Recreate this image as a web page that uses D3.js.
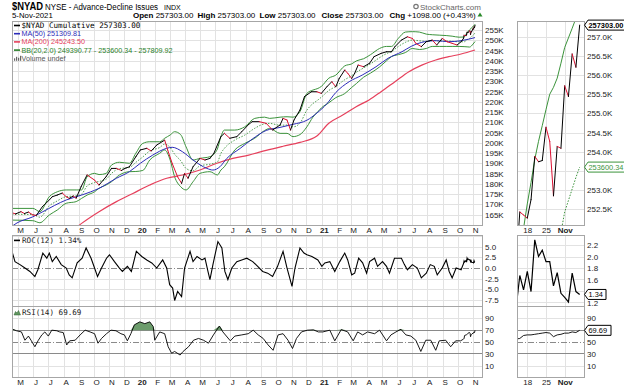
<!DOCTYPE html>
<html>
<head>
<meta charset="utf-8">
<title>$NYAD</title>
<script src="https://cdn.jsdelivr.net/npm/d3@7"></script>
<style>
  body { margin: 0; background: #fff; }
  svg { display: block; font-family: "Liberation Sans", Arial, sans-serif; }
  .grid line { stroke: #e2e2e2; shape-rendering: crispEdges; }
  .grid path { display: none; }
  .labels path { display: none; }
  .labels text { fill: #222; font-size: 8px; font-family: "Liberation Sans", Arial, sans-serif; }
  .frame { fill: none; stroke: #a6a6a6; shape-rendering: crispEdges; }
  .legend { font-size: 7.2px; }
  .mono { font-family: "DejaVu Sans Mono", monospace; font-size: 7.6px; }
</style>
</head>
<body>
<svg id="chart" width="624" height="389"></svg>
<script>
var parseDate = d3.timeParse("%Y-%m-%d");

// ---- values (A/D line in thousands) ----
var closePoints = [
    ["2019-04-19", 165.9], ["2019-04-26", 165.3], ["2019-05-07", 166.4], ["2019-05-14", 165.5],
    ["2019-05-22", 166.2], ["2019-05-31", 164.8], ["2019-06-07", 164.6], ["2019-06-19", 168.8],
    ["2019-07-03", 172.1], ["2019-07-09", 173.7], ["2019-07-19", 174.5], ["2019-07-29", 175.5],
    ["2019-08-06", 173.7], ["2019-08-12", 172.9], ["2019-08-20", 174.0], ["2019-08-26", 173.0],
    ["2019-09-05", 178.6], ["2019-09-17", 184.3], ["2019-10-02", 181.8], ["2019-10-11", 179.4],
    ["2019-10-25", 183.4], ["2019-11-05", 187.5], ["2019-11-15", 187.5], ["2019-11-25", 186.5],
    ["2019-12-02", 187.5], ["2019-12-11", 188.3], ["2019-12-24", 193.2], ["2020-01-02", 196.5],
    ["2020-01-15", 197.3], ["2020-01-24", 196.0], ["2020-02-04", 198.9], ["2020-02-20", 201.3],
    ["2020-02-26", 196.5], ["2020-03-06", 190.0], ["2020-03-17", 183.4], ["2020-03-25", 180.2],
    ["2020-03-31", 185.1], ["2020-04-07", 182.7], ["2020-04-17", 188.3], ["2020-05-01", 192.4],
    ["2020-05-11", 191.6], ["2020-05-21", 192.4], ["2020-05-29", 194.9], ["2020-06-12", 203.0],
    ["2020-06-19", 204.6], ["2020-06-30", 202.2], ["2020-07-14", 203.0], ["2020-07-24", 205.4],
    ["2020-08-07", 209.0], ["2020-08-14", 210.3], ["2020-08-28", 210.3], ["2020-09-11", 209.5],
    ["2020-09-24", 206.2], ["2020-10-09", 208.7], ["2020-10-15", 211.9], ["2020-10-23", 211.1],
    ["2020-10-30", 206.2], ["2020-11-06", 211.1], ["2020-11-18", 216.0], ["2020-11-27", 222.5],
    ["2020-12-11", 224.9], ["2020-12-22", 224.9], ["2020-12-31", 224.1], ["2021-01-11", 227.3],
    ["2021-01-21", 229.8], ["2021-01-29", 227.3], ["2021-02-05", 231.4], ["2021-02-16", 235.5],
    ["2021-02-22", 233.9], ["2021-03-02", 231.4], ["2021-03-08", 233.9], ["2021-03-15", 237.9],
    ["2021-03-26", 237.1], ["2021-04-07", 238.8], ["2021-04-16", 242.0], ["2021-04-30", 243.6],
    ["2021-05-11", 244.4], ["2021-05-21", 244.4], ["2021-05-28", 246.9], ["2021-06-10", 250.1],
    ["2021-06-22", 251.7], ["2021-07-02", 250.9], ["2021-07-09", 248.5], ["2021-07-20", 246.9],
    ["2021-07-30", 249.3], ["2021-08-11", 250.1], ["2021-08-20", 247.7], ["2021-08-31", 250.9],
    ["2021-09-10", 249.3], ["2021-09-20", 248.5], ["2021-09-30", 247.7], ["2021-10-08", 249.3]
];

var ma50Points = [
    ["2019-04-19", 159.3], ["2019-04-29", 160.9], ["2019-05-31", 163.9], ["2019-06-20", 166.4],
    ["2019-08-06", 172.1], ["2019-09-06", 174.5], ["2019-10-11", 177.8], ["2019-11-15", 182.7],
    ["2019-12-11", 185.9], ["2020-01-02", 190.0], ["2020-01-27", 194.0], ["2020-02-24", 197.3],
    ["2020-03-06", 197.8], ["2020-03-27", 195.6], ["2020-04-17", 191.6], ["2020-05-15", 187.5],
    ["2020-05-27", 186.7], ["2020-06-10", 188.3], ["2020-06-24", 192.4], ["2020-07-21", 197.3],
    ["2020-08-14", 201.8], ["2020-09-11", 206.0], ["2020-10-09", 207.5], ["2020-11-04", 209.0],
    ["2020-12-02", 211.0], ["2020-12-22", 214.5], ["2021-01-11", 219.0], ["2021-01-29", 224.5],
    ["2021-02-25", 229.8], ["2021-03-23", 233.0], ["2021-04-20", 237.1], ["2021-05-14", 241.2],
    ["2021-06-11", 244.4], ["2021-07-01", 247.2], ["2021-07-21", 249.0], ["2021-08-18", 249.8],
    ["2021-09-13", 249.3], ["2021-10-08", 249.8], ["2021-11-05", 251.31]
];

var ma200Points = [
    ["2019-08-20", 157.5], ["2019-09-06", 160.7], ["2019-10-11", 166.4], ["2019-11-15", 171.3],
    ["2019-12-18", 175.3], ["2020-01-21", 179.4], ["2020-02-24", 182.7], ["2020-03-27", 184.3],
    ["2020-05-01", 186.7], ["2020-06-04", 190.0], ["2020-07-06", 192.4], ["2020-08-07", 194.0],
    ["2020-09-11", 196.3], ["2020-10-15", 198.3], ["2020-11-18", 200.2], ["2020-12-22", 203.3],
    ["2021-01-15", 209.5], ["2021-02-12", 213.5], ["2021-03-11", 217.6], ["2021-04-06", 220.9],
    ["2021-04-30", 224.9], ["2021-05-28", 229.8], ["2021-06-25", 234.7], ["2021-07-21", 237.9],
    ["2021-08-18", 240.4], ["2021-09-13", 242.0], ["2021-10-08", 243.3], ["2021-11-05", 245.24]
];

// bollinger bands (20, 2.0)
var bbDates = [
    "2019-04-19", "2019-05-31", "2019-06-14", "2019-07-03", "2019-07-19", "2019-08-06", "2019-08-26",
    "2019-09-06", "2019-09-17", "2019-10-02", "2019-10-11", "2019-10-25", "2019-11-05", "2019-11-21",
    "2019-12-11", "2019-12-24", "2020-01-07", "2020-01-21", "2020-02-10", "2020-02-20", "2020-03-02",
    "2020-03-11", "2020-03-23", "2020-04-03", "2020-04-17", "2020-05-01", "2020-05-21", "2020-06-05",
    "2020-06-12", "2020-06-19", "2020-07-10", "2020-07-30", "2020-08-19", "2020-09-08", "2020-09-18",
    "2020-10-09", "2020-10-23", "2020-11-04", "2020-11-18", "2020-12-02", "2020-12-14", "2020-12-24",
    "2020-12-31", "2021-01-15", "2021-01-29", "2021-02-16", "2021-03-02", "2021-03-12", "2021-03-26",
    "2021-04-09", "2021-04-27", "2021-05-11", "2021-05-21", "2021-06-04", "2021-06-18", "2021-07-02",
    "2021-07-16", "2021-07-30", "2021-08-11", "2021-08-25", "2021-09-08", "2021-09-20", "2021-10-04",
    "2021-10-14", "2021-10-20", "2021-10-25", "2021-11-01", "2021-11-05"
];
var bbUpper = [
    168.0, 168.0, 166.4, 173.7, 176.1, 177.0, 177.0, 177.0, 183.4, 185.1, 184.5, 185.0, 189.1, 190.5,
    190.0, 194.9, 199.7, 200.5, 200.5, 202.2, 203.8, 205.4, 204.0, 198.0, 191.6, 192.4, 193.2, 197.0,
    203.0, 206.2, 206.2, 207.8, 211.9, 212.5, 211.9, 212.5, 212.7, 212.5, 215.2, 224.1, 225.7, 226.5,
    227.5, 231.5, 233.0, 237.5, 238.5, 240.0, 241.0, 243.0, 246.0, 247.0, 247.0, 251.0, 254.0, 254.2,
    254.0, 253.0, 252.7, 252.5, 252.3, 252.0, 251.5, 251.6, 253.8, 255.1, 256.72, 257.81
];
var bbMiddle = [
    165.15, 165.0, 163.7, 169.25, 171.65, 173.75, 174.15, 174.95, 178.95, 180.6, 181.15, 182.2, 185.05, 187.4,
    187.95, 190.45, 193.1, 196.05, 197.7, 199.35, 197.7, 194.4, 191.3, 187.5, 186.3, 188.75, 189.55, 190.65,
    194.85, 197.25, 201.35, 203.75, 207.05, 209.25, 209.45, 208.55, 208.65, 207.75, 209.6, 215.95, 219.1, 220.85,
    222.25, 225.5, 227.5, 230.75, 232.75, 234.5, 236.5, 238.5, 241.5, 243.5, 244.5, 247.0, 249.0, 250.1,
    249.75, 249.5, 249.85, 249.75, 249.65, 249.5, 249.25, 249.25, 250.3, 250.9, 252.43, 253.6
];
var bbLower = [
    162.3, 162.0, 161.0, 164.8, 167.2, 170.5, 171.3, 172.9, 174.5, 176.1, 177.8, 179.4, 181.0, 184.3,
    185.9, 186.0, 186.5, 191.6, 194.9, 196.5, 191.6, 183.4, 178.6, 177.0, 181.0, 185.1, 185.9, 184.3,
    186.7, 188.3, 196.5, 199.7, 202.2, 206.0, 207.0, 204.6, 204.6, 203.0, 204.0, 207.8, 212.5, 215.2,
    217.0, 219.5, 222.0, 224.0, 227.0, 229.0, 232.0, 234.0, 237.0, 240.0, 242.0, 243.0, 244.0, 246.0,
    245.5, 246.0, 247.0, 247.0, 247.0, 247.0, 247.0, 246.9, 246.8, 246.7, 248.14, 249.39
];

var rocPoints = [
    ["2019-04-19", 3.9], ["2019-04-25", 1.5], ["2019-05-05", 0.8], ["2019-05-15", 0], ["2019-05-25", -0.8],
    ["2019-06-04", -2.0], ["2019-06-10", -0.4], ["2019-06-20", 3.5], ["2019-06-28", 2.3], ["2019-07-03", 3.5],
    ["2019-07-09", 1.5], ["2019-07-17", 2.7], ["2019-07-27", 0.8], ["2019-08-06", 0], ["2019-08-12", -1.6],
    ["2019-08-18", -2.3], ["2019-08-28", 1.2], ["2019-09-07", 2.3], ["2019-09-15", 4.7], ["2019-09-25", 2.3],
    ["2019-10-02", 0], ["2019-10-08", -2.0], ["2019-10-16", 0], ["2019-10-26", 2.3], ["2019-11-01", 3.1],
    ["2019-11-11", 1.5], ["2019-11-21", 0], ["2019-11-27", -0.8], ["2019-12-07", 0.4], ["2019-12-15", -0.8],
    ["2019-12-25", 3.9], ["2020-01-05", 2.7], ["2020-01-15", 1.9], ["2020-01-25", 1.2], ["2020-02-04", 0],
    ["2020-02-16", 1.9], ["2020-02-24", 0], ["2020-03-01", -3.9], ["2020-03-07", -4.7], ["2020-03-11", -7.6],
    ["2020-03-17", -5.5], ["2020-03-25", -6.7], ["2020-03-31", 0], ["2020-04-11", 3.9], ["2020-04-17", 1.5],
    ["2020-04-25", 2.7], ["2020-05-05", 1.9], ["2020-05-11", 2.3], ["2020-05-17", -0.8], ["2020-05-21", -2.7],
    ["2020-05-27", 0.8], ["2020-06-06", 6.2], ["2020-06-14", 4.7], ["2020-06-20", -0.8], ["2020-06-26", -2.7],
    ["2020-07-04", 0], ["2020-07-14", 1.5], ["2020-07-24", 1.9], ["2020-08-03", 2.3], ["2020-08-15", 1.5],
    ["2020-08-25", 0.4], ["2020-09-04", -0.8], ["2020-09-14", -1.2], ["2020-09-24", -2.0], ["2020-10-04", 0.4],
    ["2020-10-15", 3.9], ["2020-10-23", 0], ["2020-11-02", -4.3], ["2020-11-08", 0], ["2020-11-18", 4.7],
    ["2020-11-26", 3.5], ["2020-12-02", 3.1], ["2020-12-12", 2.7], ["2020-12-24", 1.9], ["2021-01-01", 0.4],
    ["2021-01-07", 1.2], ["2021-01-17", 1.5], ["2021-01-27", -0.8], ["2021-02-06", 1.5], ["2021-02-16", 3.5],
    ["2021-02-22", 1.9], ["2021-03-02", -1.6], ["2021-03-08", -1.2], ["2021-03-16", 2.3], ["2021-03-24", 1.2],
    ["2021-04-01", -1.2], ["2021-04-07", 1.5], ["2021-04-17", 2.3], ["2021-04-23", 0.4], ["2021-05-03", 1.5],
    ["2021-05-11", 0.4], ["2021-05-17", -1.2], ["2021-05-27", 2.3], ["2021-06-10", 2.3], ["2021-06-16", 0.8],
    ["2021-06-22", -0.4], ["2021-07-02", 0.8], ["2021-07-12", 0], ["2021-07-20", -2.3], ["2021-07-30", -1.2],
    ["2021-08-07", 0.8], ["2021-08-15", 0.4], ["2021-08-21", -1.6], ["2021-08-31", 0], ["2021-09-08", 1.9],
    ["2021-09-14", -0.8], ["2021-09-20", -2.3], ["2021-09-28", 0], ["2021-10-08", -0.4]
];

var rsiPoints = [
    ["2019-04-19", 72], ["2019-04-28", 69], ["2019-05-08", 67], ["2019-05-15", 53], ["2019-05-22", 60],
    ["2019-05-28", 52], ["2019-06-04", 42], ["2019-06-11", 53], ["2019-06-18", 62], ["2019-06-24", 67],
    ["2019-07-01", 60], ["2019-07-08", 70], ["2019-07-18", 69], ["2019-07-24", 67], ["2019-07-31", 66],
    ["2019-08-07", 45], ["2019-08-13", 52], ["2019-08-24", 53], ["2019-09-03", 62], ["2019-09-13", 70],
    ["2019-09-23", 67], ["2019-10-02", 64], ["2019-10-09", 48], ["2019-10-16", 56], ["2019-10-26", 64],
    ["2019-11-04", 70], ["2019-11-14", 69], ["2019-11-24", 64], ["2019-12-01", 62], ["2019-12-07", 52],
    ["2019-12-14", 64], ["2019-12-21", 79], ["2020-01-01", 84], ["2020-01-11", 81], ["2020-01-21", 84],
    ["2020-01-28", 76], ["2020-01-31", 53], ["2020-02-10", 67], ["2020-02-20", 64], ["2020-02-27", 42],
    ["2020-03-05", 31], ["2020-03-11", 34], ["2020-03-22", 28], ["2020-03-28", 34], ["2020-04-08", 42],
    ["2020-04-18", 53], ["2020-04-28", 56], ["2020-05-08", 53], ["2020-05-18", 48], ["2020-05-28", 62],
    ["2020-06-09", 77], ["2020-06-16", 67], ["2020-07-01", 52], ["2020-07-10", 60], ["2020-07-24", 62],
    ["2020-08-06", 64], ["2020-08-16", 70], ["2020-08-26", 62], ["2020-09-05", 56], ["2020-09-15", 45],
    ["2020-09-25", 36], ["2020-10-05", 62], ["2020-10-15", 64], ["2020-10-25", 53], ["2020-11-03", 39],
    ["2020-11-11", 56], ["2020-11-21", 67], ["2020-12-03", 70], ["2020-12-15", 70.5], ["2020-12-25", 67],
    ["2021-01-03", 67], ["2021-01-17", 70], ["2021-01-27", 52], ["2021-02-09", 71], ["2021-02-22", 67],
    ["2021-03-05", 52], ["2021-03-14", 67], ["2021-03-24", 62], ["2021-04-03", 67], ["2021-04-17", 64],
    ["2021-04-27", 70], ["2021-05-11", 52], ["2021-05-20", 62], ["2021-05-30", 67], ["2021-06-09", 71.5],
    ["2021-06-19", 62], ["2021-06-29", 60], ["2021-07-09", 53], ["2021-07-19", 34], ["2021-07-29", 53],
    ["2021-08-08", 53], ["2021-08-18", 36], ["2021-08-25", 52], ["2021-09-07", 53], ["2021-09-17", 42],
    ["2021-09-27", 52], ["2021-10-07", 52]
];

// last trading days (also drawn in the zoomed panels on the right)
var miniDates = [
    "2021-10-13", "2021-10-14", "2021-10-15", "2021-10-18", "2021-10-19", "2021-10-20", "2021-10-21",
    "2021-10-22", "2021-10-25", "2021-10-26", "2021-10-27", "2021-10-28", "2021-10-29", "2021-11-01",
    "2021-11-02", "2021-11-03", "2021-11-04", "2021-11-05"
];
var miniClose = [251.0, 252.43, 252.35, 252.27, 252.75, 253.88, 253.74, 253.77, 254.64, 254.27,
    252.85, 254.14, 254.09, 255.72, 255.44, 256.55, 256.205, 257.303];
var miniUpper = [251.2, 251.6, 252.0, 252.64, 253.2, 253.8, 254.27, 254.68, 255.1, 255.5,
    255.68, 255.92, 256.31, 256.72, 256.97, 257.22, 257.48, 257.80992];
var miniMiddle = [249.3, 249.5, 249.7, 249.9, 250.1, 250.3, 250.5, 250.7, 250.9, 251.1,
    251.3, 251.5, 251.9, 252.43, 252.73, 253.03, 253.33, 253.60034];
var miniRoc = [1.1, 1.67, 1.42, 1.74, 1.39, 2.29, 2.0, 2.11, 1.91, 1.91, 1.49, 1.72, 1.36, 1.29, 1.21, 1.71, 1.39, 1.34];
var miniRsi = [55, 56, 61, 62, 62, 63, 64, 65, 66, 65, 59, 62, 63, 65, 65, 67, 66, 69.69];
var miniTickDates = ["2021-10-18", "2021-10-25", "2021-11-01"];

// tick labels (the zoomed panels lose the ones hidden under the last-value tags)
var mainTicks = [165, 170, 175, 180, 185, 190, 195, 200, 205, 210, 215, 220, 225, 230, 235, 240, 245, 250, 255];
var rocTicks = [5, 2.5, 0, -2.5, -5, -7.5];
var rsiTicks = [90, 70, 50, 30, 10];
var miniTicks = [257, 256.5, 256, 255.5, 255, 254.5, 254, 253, 252.5];
var miniRocTicks = [2.2, 2.0, 1.8, 1.6, 1.2];
var miniRsiTicks = [90, 50, 30, 10];

var upColor = "#000";
var downColor = "#dd1133";
var ma50Color = "#2c2cb8";
var ma200Color = "#e6405c";
var bbColor = "#3b933b";

function toSeries(points) {
    return points.map(function (p) { return {date: parseDate(p[0]), value: p[1]}; });
}

function miniSeries(values) {
    return miniDates.map(function (d, i) { return {index: i, date: parseDate(d), value: values[i]}; });
}

var closeSeries = toSeries(closePoints).concat(miniSeries(miniClose));
var rocSeries = toSeries(rocPoints).concat(miniSeries(miniRoc));
var rsiSeries = toSeries(rsiPoints).concat(miniSeries(miniRsi));
var bbSeries = bbDates.map(function (d, i) {
    return {date: parseDate(d), upper: bbUpper[i], middle: bbMiddle[i], lower: bbLower[i]};
});

var svg = d3.select("#chart");

// panel frames
var main = {left: 12, right: 482, top: 21, bottom: 225};
var roc = {top: 235, bottom: 306};
var rsi = {top: 306, bottom: 377};
var mini = {left: 517, right: 584};

var x = d3.scaleTime()
    .domain([parseDate("2019-04-19"), parseDate("2021-11-17")])
    .range([12, 481]);
var xMini = d3.scaleLinear().domain([0.25, 18.16]).range([mini.left, mini.right]);

var yMain = d3.scaleLinear().domain([159.9, 259.4]).range([main.bottom, main.top]);
var yRoc = d3.scaleLinear().domain([-8.9, 7.74]).range([roc.bottom, roc.top]);
var yRsi = d3.scaleLinear().domain([-9.1, 110.8]).range([rsi.bottom, rsi.top]);
var yMini = d3.scaleLinear().domain([252.09, 257.41]).range([main.bottom, main.top]);
var yMiniRoc = d3.scaleLinear().domain([1.139, 2.374]).range([roc.bottom, roc.top]);

var miniTickIndex = miniTickDates.map(function (d) { return miniDates.indexOf(d); });

var defs = svg.append("defs");

function clipGroup(id, x0, y0, x1, y1) {
    defs.append("clipPath").attr("id", id)
        .append("rect").attr("x", x0).attr("y", y0).attr("width", x1 - x0).attr("height", y1 - y0);
    return svg.append("g").attr("clip-path", "url(#" + id + ")");
}

function hGrid(left, right, scale, values) {
    svg.append("g").attr("class", "grid")
        .attr("transform", "translate(" + left + ",0)")
        .call(d3.axisLeft(scale).tickValues(values).tickSize(-(right - left)).tickFormat(""));
}

function vGrid(top, bottom) {
    svg.append("g").attr("class", "grid")
        .attr("transform", "translate(0," + bottom + ")")
        .call(d3.axisBottom(x).ticks(d3.timeMonth.every(1)).tickSize(-(bottom - top)).tickFormat(""));
    svg.append("g").attr("class", "grid")
        .attr("transform", "translate(0," + bottom + ")")
        .call(d3.axisBottom(xMini).tickValues(miniTickIndex).tickSize(-(bottom - top)).tickFormat(""));
}

function refLine(left, right, y, dashed) {
    svg.append("line")
        .attr("x1", left).attr("x2", right).attr("y1", y).attr("y2", y)
        .attr("stroke", "#8a8a8a").attr("stroke-width", 1)
        .attr("stroke-dasharray", dashed ? "6,2,1,2" : null)
        .style("shape-rendering", "crispEdges");
}

function yLabels(xPos, scale, values, fmt) {
    svg.append("g").attr("class", "labels")
        .attr("transform", "translate(" + xPos + ",0)")
        .call(d3.axisRight(scale).tickValues(values).tickSize(0).tickPadding(3).tickFormat(fmt));
}

function monthLabels(yPos) {
    var g = svg.append("g").attr("class", "labels")
        .attr("transform", "translate(2," + yPos + ")")
        .call(d3.axisBottom(x).ticks(d3.timeMonth.every(1)).tickSize(0).tickPadding(2)
            .tickFormat(function (d) {
                return d.getMonth() === 0 ? d3.timeFormat("%y")(d) : d3.timeFormat("%b")(d).charAt(0);
            }));
    g.selectAll("text").style("font-weight", function (d) { return d.getMonth() === 0 ? "bold" : "normal"; });

    // zoomed panel: day numbers, month name on the first trading day of a month
    var gm = svg.append("g").attr("class", "labels")
        .attr("transform", "translate(0," + yPos + ")")
        .call(d3.axisBottom(xMini).tickValues(miniTickIndex).tickSize(0).tickPadding(2)
            .tickFormat(function (i) {
                var d = parseDate(miniDates[i]);
                var prev = parseDate(miniDates[i - 1]);
                return prev.getMonth() !== d.getMonth() ? d3.timeFormat("%b")(d) : String(d.getDate());
            }));
    gm.selectAll("text").style("font-weight", function () { return /[A-Z]/.test(this.textContent) ? "bold" : "normal"; });
}

function drawSegments(g, series, xf, yf) {
    g.selectAll(null)
        .data(d3.pairs(series))
        .enter().append("line")
        .attr("x1", function (p) { return xf(p[0]); })
        .attr("y1", function (p) { return yf(p[0].value); })
        .attr("x2", function (p) { return xf(p[1]); })
        .attr("y2", function (p) { return yf(p[1].value); })
        .attr("stroke", function (p) { return p[1].value < p[0].value ? downColor : upColor; })
        .attr("stroke-width", 1)
        .attr("stroke-linecap", "round");
}

function addPath(g, data, line, color, width, dash) {
    g.append("path").datum(data)
        .attr("d", line)
        .attr("fill", "none")
        .attr("stroke", color)
        .attr("stroke-width", width)
        .attr("stroke-dasharray", dash || null);
}

var xDate = function (d) { return x(d.date); };
var xIdx = function (d) { return xMini(d.index); };

// ---- grids ----
hGrid(main.left, main.right, yMain, d3.range(160, 260, 5));
hGrid(main.left, main.right, yRoc, [-7.5, -5, -2.5, 2.5, 5, 7.5]);
hGrid(main.left, main.right, yRsi, [10, 90]);
hGrid(mini.left, mini.right, yMini, [257, 256.5, 256, 255.5, 255, 254.5, 254, 253.5, 253, 252.5]);
hGrid(mini.left, mini.right, yMiniRoc, [2.2, 2.0, 1.8, 1.6, 1.4, 1.2]);
hGrid(mini.left, mini.right, yRsi, [10, 90]);
vGrid(main.top, main.bottom);
vGrid(roc.top, roc.bottom);
vGrid(rsi.top, rsi.bottom);

refLine(main.left, main.right, yRoc(0), true);
[main, mini].forEach(function (p) {
    refLine(p.left, p.right, yRsi(70), false);
    refLine(p.left, p.right, yRsi(30), false);
    refLine(p.left, p.right, yRsi(50), true);
});

// ---- price panel ----
var gMain = clipGroup("clipMain", main.left, main.top, main.right, main.bottom);
var bbUpperLine = d3.line().x(xDate).y(function (d) { return yMain(d.upper); }).curve(d3.curveMonotoneX);
var bbLowerLine = d3.line().x(xDate).y(function (d) { return yMain(d.lower); }).curve(d3.curveMonotoneX);
var bbMiddleLine = d3.line().x(xDate).y(function (d) { return yMain(d.middle); }).curve(d3.curveMonotoneX);
addPath(gMain, bbSeries, bbUpperLine, bbColor, 1);
addPath(gMain, bbSeries, bbLowerLine, bbColor, 1);
addPath(gMain, bbSeries, bbMiddleLine, bbColor, 0.9, "1.5,1.5");

var valueLine = d3.line().x(xDate).y(function (d) { return yMain(d.value); }).curve(d3.curveMonotoneX);
addPath(gMain, toSeries(ma200Points), valueLine, ma200Color, 1.2);
addPath(gMain, toSeries(ma50Points), valueLine, ma50Color, 1);
drawSegments(gMain, closeSeries, xDate, yMain);

// ---- ROC panel ----
var gRoc = clipGroup("clipRoc", main.left, roc.top, main.right, roc.bottom);
addPath(gRoc, rocSeries, d3.line().x(xDate).y(function (d) { return yRoc(d.value); }), "#000", 1.1);

// ---- RSI panel ----
var gRsi = clipGroup("clipRsi", main.left, rsi.top, main.right, rsi.bottom);
gRsi.append("path").datum(rsiSeries)
    .attr("d", d3.area().x(xDate).y0(yRsi(70)).y1(function (d) { return yRsi(Math.max(d.value, 70)); }))
    .attr("fill", "#6c9c6c");
addPath(gRsi, rsiSeries, d3.line().x(xDate).y(function (d) { return yRsi(d.value); }), "#000", 0.9);

// ---- zoomed panels on the right ----
var gMini = clipGroup("clipMini", mini.left, main.top, mini.right, main.bottom);
addPath(gMini, miniSeries(miniUpper), d3.line().x(xIdx).y(function (d) { return yMini(d.value); }), bbColor, 1);
addPath(gMini, miniSeries(miniMiddle), d3.line().x(xIdx).y(function (d) { return yMini(d.value); }), bbColor, 1, "1.5,1.5");
drawSegments(gMini, miniSeries(miniClose), xIdx, yMini);

var gMiniRoc = clipGroup("clipMiniRoc", mini.left, roc.top, mini.right, roc.bottom);
addPath(gMiniRoc, miniSeries(miniRoc), d3.line().x(xIdx).y(function (d) { return yMiniRoc(d.value); }), "#000", 1.2);

var gMiniRsi = clipGroup("clipMiniRsi", mini.left, rsi.top, mini.right, rsi.bottom);
addPath(gMiniRsi, miniSeries(miniRsi), d3.line().x(xIdx).y(function (d) { return yRsi(d.value); }), "#000", 0.9);

// ---- frames ----
[[main.left, main.right], [mini.left, mini.right]].forEach(function (p) {
    [[main.top, main.bottom], [roc.top, roc.bottom], [rsi.top, rsi.bottom]].forEach(function (v) {
        svg.append("rect").attr("class", "frame")
            .attr("x", p[0] + 0.5).attr("y", v[0] + 0.5)
            .attr("width", p[1] - p[0]).attr("height", v[1] - v[0]);
    });
});

// ---- axis labels ----
yLabels(main.right, yMain, mainTicks, function (d) { return d + "K"; });
yLabels(main.right, yRoc, rocTicks, function (d) { return d.toFixed(1); });
yLabels(main.right, yRsi, rsiTicks, function (d) { return d; });
yLabels(mini.right, yMini, miniTicks, function (d) { return d.toFixed(1) + "K"; });
yLabels(mini.right, yMiniRoc, miniRocTicks, function (d) { return d.toFixed(1); });
yLabels(mini.right, yRsi, miniRsiTicks, function (d) { return d; });
monthLabels(main.bottom);
monthLabels(rsi.bottom);

// last value tags on the right
function valueTag(y, text, color, width, bold) {
    svg.append("path")
        .attr("d", "M584.5," + y + "l3.5,-5h" + width + "v10h-" + width + "z")
        .attr("fill", "#fff").attr("stroke", color).attr("stroke-width", 1);
    svg.append("text").attr("x", 588.5).attr("y", y + 3)
        .attr("fill", color)
        .style("font-size", "7.4px").style("font-weight", bold ? "bold" : "normal")
        .text(text);
}
var last = miniDates.length - 1;
valueTag(yMini(miniMiddle[last]), (miniMiddle[last] * 1000).toFixed(2), bbColor, 40, false);
valueTag(yMini(miniClose[last]), (miniClose[last] * 1000).toFixed(2), "#000", 40, true);
valueTag(yMiniRoc(miniRoc[last]), miniRoc[last].toFixed(2), "#000", 18, false);
valueTag(yRsi(miniRsi[last]), miniRsi[last].toFixed(2), "#000", 23, false);

// ---- header ----
svg.append("text").attr("x", 12).attr("y", 10)
    .style("font-size", "10.5px").style("font-weight", "bold")
    .attr("textLength", 31).attr("lengthAdjust", "spacingAndGlyphs")
    .text("$NYAD");
svg.append("text").attr("x", 45).attr("y", 10).style("font-size", "8.4px")
    .attr("textLength", 113).attr("lengthAdjust", "spacingAndGlyphs")
    .text("NYSE - Advance-Decline Issues");
svg.append("text").attr("x", 164).attr("y", 10).style("font-size", "7px").text("INDX");
svg.append("text").attr("x", 12).attr("y", 17.5).style("font-size", "7.8px").text("5-Nov-2021");

var headerItems = [
    {x: 133, label: "Open", value: "257303.00"},
    {x: 197.5, label: "High", value: "257303.00"},
    {x: 259.5, label: "Low", value: "257303.00"},
    {x: 321.5, label: "Close", value: "257303.00"},
    {x: 389.5, label: "Chg", value: "+1098.00 (+0.43%)"}
];
headerItems.forEach(function (h) {
    var t = svg.append("text").attr("x", h.x).attr("y", 17.5).style("font-size", "8px");
    t.append("tspan").style("font-weight", "bold").text(h.label + " ");
    t.append("tspan").text(h.value);
});
svg.append("path").attr("d", "M477.5,16.5l2.5,-4l2.5,4z").attr("fill", "#2a8a2a");

svg.append("circle").attr("cx", 416).attr("cy", 6.5).attr("r", 2.2)
    .attr("fill", "none").attr("stroke", "#777").attr("stroke-width", 1.2);
svg.append("text").attr("x", 420).attr("y", 9.5)
    .style("font-size", "8px").attr("fill", "#666")
    .text("StockCharts.com");

// ---- legends ----
var legendRows = [
    {text: "$NYAD Cumulative 257303.00", color: "#000", y: 28, mono: true},
    {text: "MA(50) 251309.81", color: ma50Color, y: 36.2},
    {text: "MA(200) 245243.50", color: ma200Color, y: 44.4},
    {text: "BB(20,2.0) 249390.77 - 253600.34 - 257809.92", color: "#2a7f2a", y: 52.6},
    {text: "Volume undef", color: "#555", y: 60.8, icon: "bars"}
];
legendRows.forEach(function (r) {
    if (r.icon === "bars") {
        [[14, 2.5], [16, 4], [18, 3], [20, 5]].forEach(function (b) {
            svg.append("rect").attr("x", b[0]).attr("y", r.y - b[1]).attr("width", 1.2).attr("height", b[1]).attr("fill", "#666");
        });
    } else {
        svg.append("rect").attr("x", 14).attr("y", r.y - 3.3).attr("width", 6).attr("height", 1.6).attr("fill", r.color);
    }
    svg.append("text").attr("x", 21.5).attr("y", r.y)
        .attr("class", r.mono ? "mono" : "legend")
        .attr("fill", r.color)
        .text(r.text);
});

svg.append("rect").attr("x", 14).attr("y", 239.6).attr("width", 6).attr("height", 1.6).attr("fill", "#000");
svg.append("text").attr("x", 22).attr("y", 243.3).attr("class", "mono").attr("fill", "#222").text("ROC(12) 1.34%");

svg.append("path").attr("d", "M14,315 L15.5,311.5 L17,313 L18.5,310.5 L20.5,315 Z").attr("fill", "#5f965f").attr("stroke", "#2e5e2e").attr("stroke-width", 0.5);
svg.append("text").attr("x", 22).attr("y", 314.5).attr("class", "mono").attr("fill", "#222").text("RSI(14) 69.69");
</script>
</body>
</html>
